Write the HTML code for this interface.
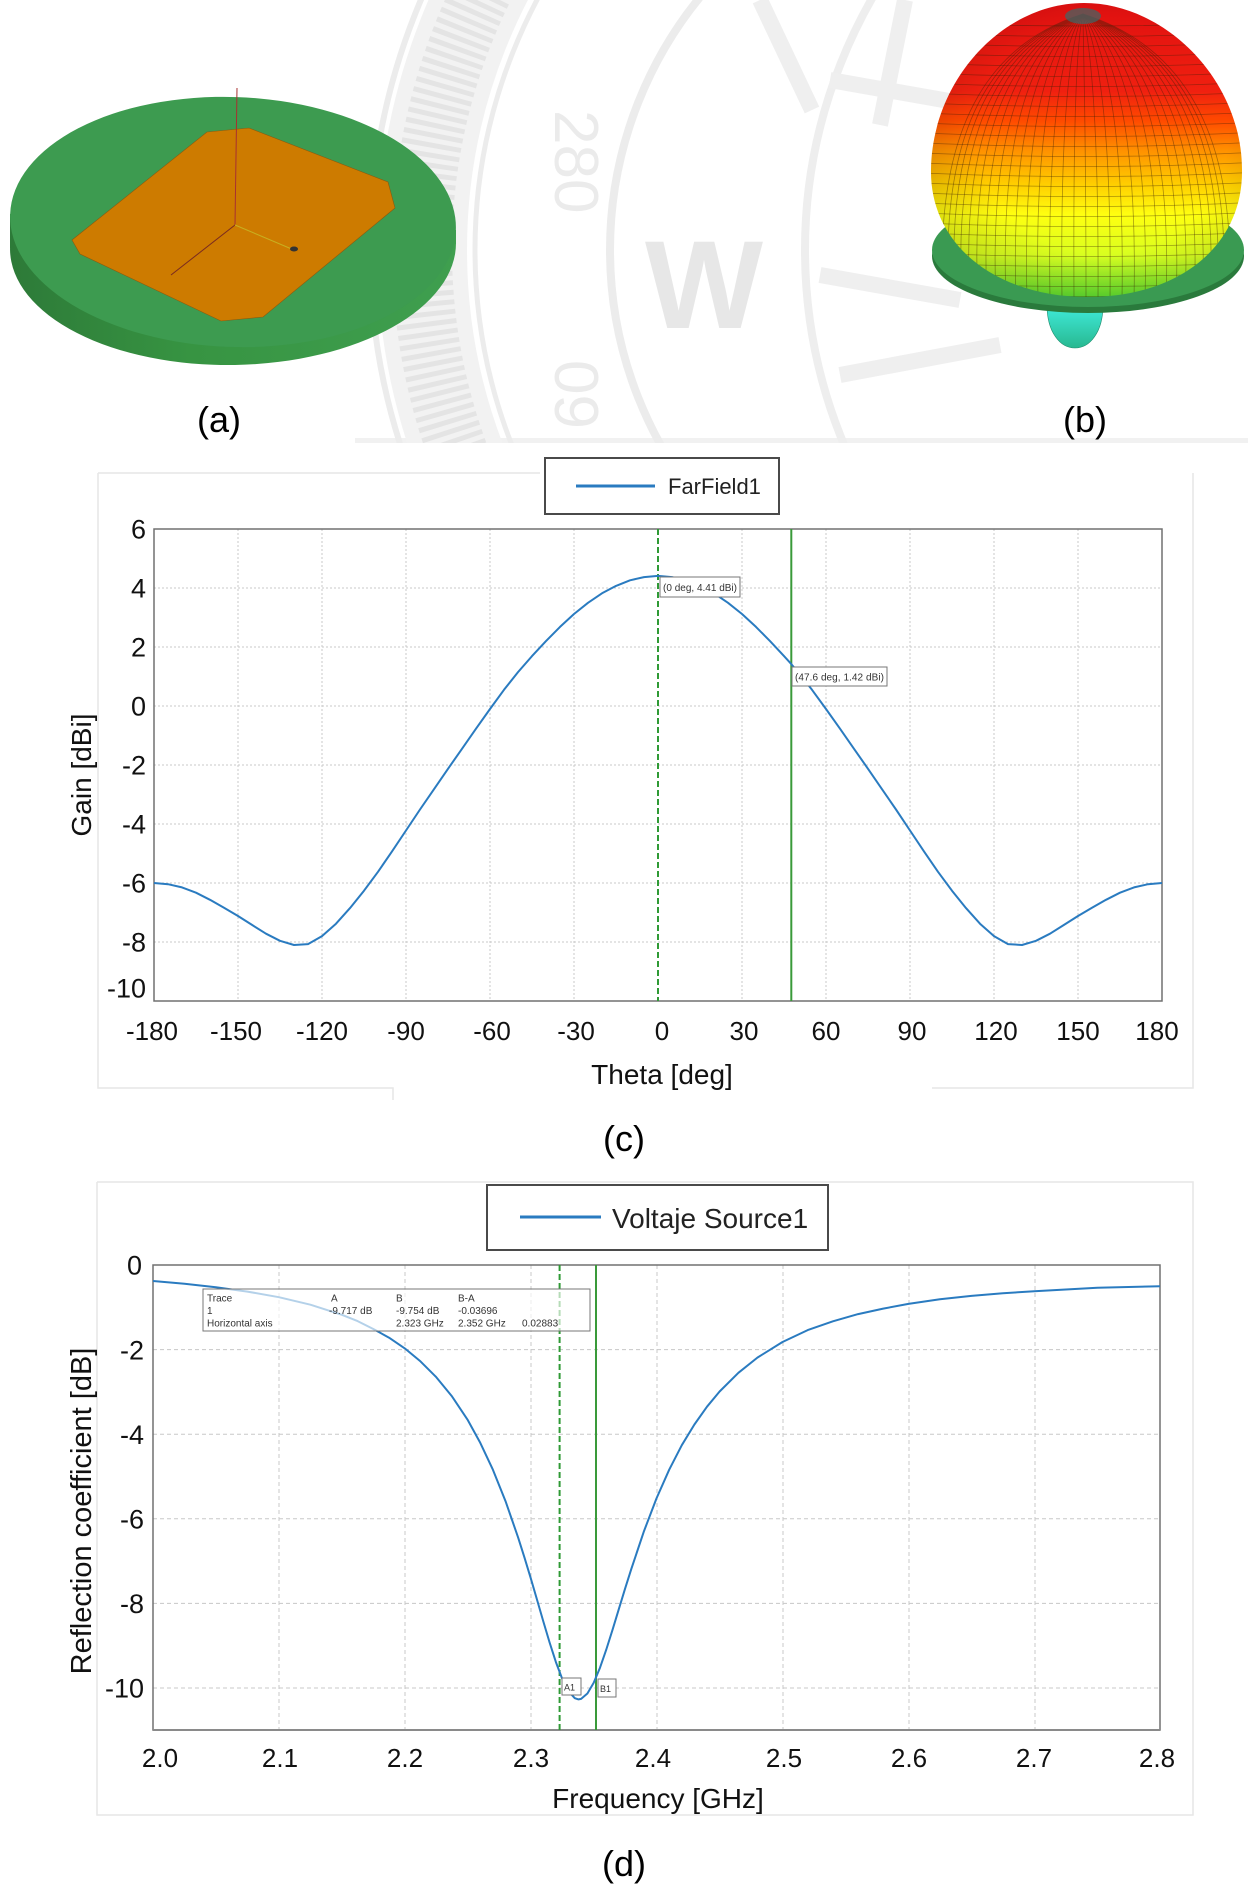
<!DOCTYPE html>
<html><head><meta charset="utf-8"><style>
html,body{margin:0;padding:0;background:#fff;}
svg{display:block;}
text{font-family:"Liberation Sans",sans-serif;}
</style></head><body>
<svg width="1248" height="1890" viewBox="0 0 1248 1890" xmlns="http://www.w3.org/2000/svg">
<defs>
<clipPath id="wm"><rect x="355" y="0" width="893" height="443"/></clipPath>
<linearGradient id="sideA" x1="0" y1="0" x2="1" y2="0">
<stop offset="0" stop-color="#2d7a38"/><stop offset="0.4" stop-color="#379442"/><stop offset="1" stop-color="#3f9f4f"/>
</linearGradient>
<linearGradient id="egg" gradientUnits="userSpaceOnUse" x1="0" y1="3" x2="0" y2="297">
<stop offset="0" stop-color="#e01010"/><stop offset="0.30" stop-color="#f02010"/><stop offset="0.40" stop-color="#ff4a00"/>
<stop offset="0.50" stop-color="#ff9000"/><stop offset="0.62" stop-color="#ffd000"/><stop offset="0.72" stop-color="#ffff10"/>
<stop offset="0.86" stop-color="#d8ff20"/><stop offset="1" stop-color="#60e030"/>
</linearGradient>
<radialGradient id="shade" cx="0.55" cy="0.45" r="0.62">
<stop offset="0.65" stop-color="#000" stop-opacity="0"/><stop offset="1" stop-color="#000" stop-opacity="0.14"/>
</radialGradient>
<linearGradient id="lobe" x1="0" y1="0" x2="0" y2="1">
<stop offset="0" stop-color="#40ecdc"/><stop offset="1" stop-color="#28b890"/>
</linearGradient>
<clipPath id="eggc"><path d="M1084,3 C1165,3 1242,80 1242,170 C1243,245 1180,297 1088,297 C996,297 930,245 931,170 C932,80 1003,3 1084,3 Z"/></clipPath>
</defs>

<!-- watermark -->
<g clip-path="url(#wm)" fill="none">
<rect x="355" y="438" width="893" height="5" fill="#f1f1f1"/>
<circle cx="1010" cy="250" r="588" stroke="#f2f2f2" stroke-width="90"/>
<circle cx="1010" cy="250" r="588" stroke="#e4e4e4" stroke-width="60" stroke-dasharray="5 5"/>
<circle cx="1010" cy="250" r="640" stroke="#ececec" stroke-width="6"/>
<circle cx="1010" cy="250" r="535" stroke="#ececec" stroke-width="5"/>
<circle cx="1010" cy="250" r="400" stroke="#ececec" stroke-width="8"/>
<circle cx="1310" cy="250" r="505" stroke="#eeeeee" stroke-width="8"/>
<path d="M760,0 L812,110 M905,0 L880,125 M830,80 L1000,110 M820,275 L960,300 M840,375 L1000,345" stroke="#efefef" stroke-width="16"/>
<text transform="translate(555,110) rotate(90)" font-family="Liberation Serif,serif" font-size="62" fill="#ebebeb">280</text>
<text transform="translate(555,360) rotate(90)" font-family="Liberation Serif,serif" font-size="62" fill="#ebebeb">09</text>
<text x="645" y="328" font-family="Liberation Serif,serif" font-weight="bold" font-size="125" fill="#e7e7e7">W</text>
</g>

<!-- panel (a) -->
<polygon points="10,214 10,248 456,244 456,230" fill="url(#sideA)"/>
<ellipse cx="233" cy="246" rx="223" ry="119" fill="url(#sideA)" transform="rotate(-1 233 246)"/>
<ellipse cx="233" cy="222" rx="223" ry="125" fill="#3d9b50" transform="rotate(2 233 222)"/>
<polygon points="207,132 249,128 388,182 395,208 263,317 221,321 80,254 72,240" fill="#cd7b00" stroke="#8a5a10" stroke-width="0.6"/>
<line x1="237" y1="88" x2="235" y2="225" stroke="#a83030" stroke-width="1"/>
<line x1="235" y1="225" x2="171" y2="275" stroke="#7a2a20" stroke-width="1"/>
<line x1="235" y1="225" x2="294" y2="250" stroke="#c8b020" stroke-width="1"/>
<ellipse cx="294" cy="249" rx="4" ry="2.5" fill="#333"/>
<text x="219" y="432" text-anchor="middle" font-family="Liberation Serif,serif" font-size="36" fill="#000">(a)</text>

<!-- panel (b) -->
<path d="M1047,305 C1047,332 1060,348 1075,348 C1090,348 1103,332 1103,305 Z" fill="url(#lobe)" stroke="#1a8a6a" stroke-width="0.6"/>
<ellipse cx="1088" cy="256" rx="156" ry="57" fill="#2a7a3c"/>
<ellipse cx="1088" cy="250" rx="156" ry="57" fill="#3a9a52"/>
<path d="M1084,3 C1165,3 1242,80 1242,170 C1243,245 1180,297 1088,297 C996,297 930,245 931,170 C932,80 1003,3 1084,3 Z" fill="url(#egg)"/>
<g clip-path="url(#eggc)" fill="none" stroke="#3a2008" stroke-opacity="0.42" stroke-width="0.8">
<path d="M900,22 Q1086,30 1260,22 M900,32 Q1086,41 1260,32 M900,42 Q1086,51 1260,42 M900,52 Q1086,61 1260,52 M900,62 Q1086,71 1260,62 M900,72 Q1086,81 1260,72 M900,82 Q1086,91 1260,82 M900,92 Q1086,101 1260,92 M900,102 Q1086,111 1260,102 M900,112 Q1086,121 1260,112 M900,122 Q1086,131 1260,122 M900,132 Q1086,141 1260,132 M900,142 Q1086,151 1260,142 M900,152 Q1086,161 1260,152 M900,162 Q1086,171 1260,162 M900,172 Q1086,181 1260,172 M900,182 Q1086,191 1260,182 M900,192 Q1086,201 1260,192 M900,202 Q1086,211 1260,202 M900,212 Q1086,221 1260,212 M900,222 Q1086,231 1260,222 M900,232 Q1086,241 1260,232 M900,242 Q1086,251 1260,242 M900,252 Q1086,261 1260,252 M900,262 Q1086,271 1260,262 M900,272 Q1086,281 1260,272 M900,282 Q1086,291 1260,282 M900,292 Q1086,301 1260,292"/>
<path d="M1083,14 C1083,40 1086,110 1086,300
M1083,14 C1089,40 1099,110 1098,300 M1083,14 C1077,40 1073,110 1074,300
M1083,14 C1095,40 1112,110 1110,300 M1083,14 C1071,40 1060,110 1062,300
M1083,14 C1101,40 1125,110 1122,300 M1083,14 C1065,40 1047,110 1050,300
M1083,14 C1107,40 1138,110 1134,300 M1083,14 C1059,40 1034,110 1038,300
M1083,14 C1113,40 1150,110 1145,300 M1083,14 C1053,40 1022,110 1027,300
M1083,14 C1119,40 1162,110 1156,300 M1083,14 C1047,40 1010,110 1016,300
M1083,14 C1125,40 1173,110 1166,300 M1083,14 C1041,40 999,110 1006,300
M1083,14 C1131,40 1184,110 1176,300 M1083,14 C1035,40 988,110 996,300
M1083,14 C1137,40 1194,110 1185,300 M1083,14 C1029,40 978,110 987,300
M1083,14 C1142,40 1204,110 1194,300 M1083,14 C1024,40 968,110 978,300
M1083,14 C1147,40 1213,110 1202,300 M1083,14 C1019,40 959,110 970,300
M1083,14 C1152,40 1221,110 1210,300 M1083,14 C1014,40 951,110 962,300
M1083,14 C1157,40 1228,110 1217,300 M1083,14 C1009,40 944,110 955,300
M1083,14 C1161,40 1234,110 1223,300 M1083,14 C1005,40 938,110 949,300
M1083,14 C1165,40 1239,110 1229,300 M1083,14 C1001,40 933,110 943,300"/>
</g>
<path d="M1084,3 C1165,3 1242,80 1242,170 C1243,245 1180,297 1088,297 C996,297 930,245 931,170 C932,80 1003,3 1084,3 Z" fill="url(#shade)"/>
<ellipse cx="1083" cy="16" rx="18" ry="8" fill="#3c6a6a" opacity="0.7"/>
<text x="1085" y="432" text-anchor="middle" font-family="Liberation Serif,serif" font-size="36" fill="#000">(b)</text>

<!-- ===== plot (c) ===== -->
<g stroke="#e6e6e6" stroke-width="1.5" fill="none">
<path d="M98,473 L98,1088 L393,1088 L393,1100 M932,1088 L1193,1088 L1193,473 M98,473 L540,473"/>
</g>
<rect x="545" y="458" width="234" height="56" fill="#fff" stroke="#4a4a4a" stroke-width="2"/>
<line x1="576" y1="486" x2="655" y2="486" stroke="#2a7bc0" stroke-width="3"/>
<text x="668" y="494" font-size="22" fill="#222">FarField1</text>

<g stroke="#c8c8c8" stroke-width="1" stroke-dasharray="2 2">
<line x1="154" y1="588" x2="1162" y2="588"/><line x1="154" y1="647" x2="1162" y2="647"/>
<line x1="154" y1="706" x2="1162" y2="706"/><line x1="154" y1="765" x2="1162" y2="765"/>
<line x1="154" y1="824" x2="1162" y2="824"/><line x1="154" y1="883" x2="1162" y2="883"/>
<line x1="154" y1="942" x2="1162" y2="942"/>
<line x1="238" y1="529" x2="238" y2="1001"/><line x1="322" y1="529" x2="322" y2="1001"/>
<line x1="406" y1="529" x2="406" y2="1001"/><line x1="490" y1="529" x2="490" y2="1001"/>
<line x1="574" y1="529" x2="574" y2="1001"/><line x1="742" y1="529" x2="742" y2="1001"/>
<line x1="826" y1="529" x2="826" y2="1001"/><line x1="910" y1="529" x2="910" y2="1001"/>
<line x1="994" y1="529" x2="994" y2="1001"/><line x1="1078" y1="529" x2="1078" y2="1001"/>
</g>
<rect x="154" y="529" width="1008" height="472" fill="none" stroke="#707070" stroke-width="1.5"/>
<line x1="658" y1="529" x2="658" y2="1001" stroke="#2f9a35" stroke-width="2" stroke-dasharray="6 3"/>
<line x1="791.3" y1="529" x2="791.3" y2="1001" stroke="#3a9a3a" stroke-width="2"/>
<polyline fill="none" stroke="#2a7bc0" stroke-width="2" stroke-linejoin="round" points="154,883 168,884.2 182,887.4 196,892.7 210,899.8 224,907.8 238,916 252,924.9 266,933.7 280,940.8 294,945 308,944.1 322,936.1 336,923.7 350,908.1 364,890.7 378,871.8 392,851.4 406,830.5 420,809.5 434,789.2 448,768.8 462,748.8 476,728.7 490,709 504,689.8 518,672.1 532,656.1 546,641.1 560,626.9 574,614 588,602.8 602,593.3 616,585.9 630,580.3 644,577.1 658,575.9 672,577.1 686,580.3 700,585.9 714,593.3 728,602.8 742,614 756,626.9 770,641.1 784,656.1 791.3,664.1 798,672.1 812,689.8 826,709 840,728.7 854,748.8 868,768.8 882,789.2 896,809.5 910,830.5 924,851.4 938,871.8 952,890.7 966,908.1 980,923.7 994,936.1 1008,944.1 1022,945 1036,940.8 1050,933.7 1064,924.9 1078,916 1092,907.8 1106,899.8 1120,892.7 1134,887.4 1148,884.2 1162,883"/>
<rect x="660" y="577" width="80" height="20" fill="#fff" stroke="#777" stroke-width="1"/>
<text x="663" y="591" font-size="10" fill="#333" textLength="74">(0 deg, 4.41 dBi)</text>
<rect x="792" y="667" width="95" height="19" fill="#fff" stroke="#777" stroke-width="1"/>
<text x="795" y="680.5" font-size="10" fill="#333" textLength="89">(47.6 deg, 1.42 dBi)</text>

<g font-size="27" fill="#111" text-anchor="end">
<text x="146" y="538.7">6</text><text x="146" y="597.7">4</text><text x="146" y="656.7">2</text>
<text x="146" y="715.7">0</text><text x="146" y="774.7">-2</text><text x="146" y="833.7">-4</text>
<text x="146" y="892.7">-6</text><text x="146" y="951.7">-8</text><text x="146" y="997.7">-10</text>
</g>
<g font-size="26" fill="#111" text-anchor="middle">
<text x="152" y="1040">-180</text><text x="236" y="1040">-150</text><text x="322" y="1040">-120</text>
<text x="406" y="1040">-90</text><text x="492" y="1040">-60</text><text x="576" y="1040">-30</text>
<text x="662" y="1040">0</text><text x="744" y="1040">30</text><text x="826" y="1040">60</text>
<text x="912" y="1040">90</text><text x="996" y="1040">120</text><text x="1078" y="1040">150</text>
<text x="1157" y="1040">180</text>
</g>
<text x="662" y="1084" font-size="28" fill="#111" text-anchor="middle">Theta [deg]</text>
<text transform="translate(91,775) rotate(-90)" font-size="28" fill="#111" text-anchor="middle">Gain [dBi]</text>
<text x="624" y="1151" text-anchor="middle" font-family="Liberation Serif,serif" font-size="36" fill="#000">(c)</text>

<!-- ===== plot (d) ===== -->
<g stroke="#e6e6e6" stroke-width="1.5" fill="none">
<path d="M97,1182 L97,1815 L1193,1815 L1193,1182 L97,1182"/>
</g>
<rect x="487" y="1185" width="341" height="65" fill="#fff" stroke="#4a4a4a" stroke-width="2"/>
<line x1="520" y1="1217" x2="601" y2="1217" stroke="#2a7bc0" stroke-width="3"/>
<text x="612" y="1228" font-size="28" fill="#222">Voltaje Source1</text>

<g stroke="#c8c8c8" stroke-width="1" stroke-dasharray="4 3">
<line x1="153" y1="1349.6" x2="1160" y2="1349.6"/><line x1="153" y1="1434.2" x2="1160" y2="1434.2"/>
<line x1="153" y1="1518.8" x2="1160" y2="1518.8"/><line x1="153" y1="1603.4" x2="1160" y2="1603.4"/>
<line x1="153" y1="1688" x2="1160" y2="1688"/>
<line x1="279" y1="1265" x2="279" y2="1730"/><line x1="405" y1="1265" x2="405" y2="1730"/>
<line x1="531" y1="1265" x2="531" y2="1730"/><line x1="657" y1="1265" x2="657" y2="1730"/>
<line x1="783" y1="1265" x2="783" y2="1730"/><line x1="909" y1="1265" x2="909" y2="1730"/>
<line x1="1035" y1="1265" x2="1035" y2="1730"/>
</g>
<rect x="153" y="1265" width="1007" height="465" fill="none" stroke="#707070" stroke-width="1.5"/>
<line x1="153" y1="1730" x2="1160" y2="1730" stroke="#8a8a8a" stroke-width="2"/>
<line x1="559.6" y1="1265" x2="559.6" y2="1730" stroke="#2f9a35" stroke-width="2" stroke-dasharray="6 3"/>
<line x1="596" y1="1265" x2="596" y2="1730" stroke="#3a9a3a" stroke-width="2"/>
<polyline fill="none" stroke="#2a7bc0" stroke-width="2" stroke-linejoin="round" points="153,1281 184.5,1283.8 215.9,1287.2 247.4,1291.6 278.9,1297.2 310.4,1304.7 341.9,1314.8 357.6,1321.1 373.3,1329 389.1,1337.7 404.8,1348.4 420.5,1361.4 436.3,1377.2 452,1396.4 467.8,1420.1 480.3,1442.9 492.9,1469.7 505.5,1501.1 518.1,1537.4 524.4,1557.3 530.7,1578.1 537,1599.6 543.3,1621.4 549.6,1642.5 555.9,1662.1 562.2,1678.8 568.5,1691.3 574.8,1698.2 578.5,1699.4 581.1,1698.9 587.4,1693.5 593.7,1682.7 600,1667.7 606.3,1649.5 612.6,1629.6 618.8,1609.2 625.1,1588.6 631.4,1568.7 644,1531.1 656.6,1498.1 669.2,1469.7 681.8,1445.2 694.4,1424.5 707,1406.7 719.6,1391.5 738.4,1372.8 757.4,1357.6 782.5,1342 807.7,1330.1 832.9,1321.3 858.1,1314.1 883.2,1308.6 908.4,1303.9 939.9,1299.3 971.4,1295.9 1002.9,1293.3 1034.3,1291.2 1065.8,1289.5 1097.3,1287.8 1160,1286.2"/>
<rect x="203" y="1289" width="387" height="42" fill="#fff" fill-opacity="0.65" stroke="#777" stroke-width="1"/>
<g font-size="10" fill="#333">
<text x="207" y="1301.5">Trace</text><text x="331" y="1301.5">A</text><text x="396" y="1301.5">B</text><text x="458" y="1301.5">B-A</text>
<text x="207" y="1314">1</text><text x="329" y="1314">-9.717 dB</text><text x="396" y="1314">-9.754 dB</text><text x="458" y="1314">-0.03696</text>
<text x="207" y="1326.5">Horizontal axis</text><text x="396" y="1326.5">2.323 GHz</text><text x="458" y="1326.5">2.352 GHz</text><text x="522" y="1326.5">0.02883</text>
</g>
<rect x="562" y="1678" width="19" height="17" fill="#fff" stroke="#777" stroke-width="1"/>
<text x="564" y="1690.5" font-size="9" fill="#333">A1</text>
<rect x="598" y="1679" width="18" height="18" fill="#fff" stroke="#777" stroke-width="1"/>
<text x="600" y="1692" font-size="9" fill="#333">B1</text>

<g font-size="27" fill="#111" text-anchor="end">
<text x="142" y="1274.7">0</text><text x="144" y="1359.3">-2</text><text x="144" y="1443.9">-4</text>
<text x="144" y="1528.5">-6</text><text x="144" y="1613.1">-8</text><text x="144" y="1697.7">-10</text>
</g>
<g font-size="26" fill="#111" text-anchor="middle">
<text x="160" y="1767">2.0</text><text x="280" y="1767">2.1</text><text x="405" y="1767">2.2</text>
<text x="531" y="1767">2.3</text><text x="653" y="1767">2.4</text><text x="784" y="1767">2.5</text>
<text x="909" y="1767">2.6</text><text x="1034" y="1767">2.7</text><text x="1157" y="1767">2.8</text>
</g>
<text x="658" y="1808" font-size="28" fill="#111" text-anchor="middle">Frequency [GHz]</text>
<text transform="translate(91,1511) rotate(-90)" font-size="29" fill="#111" text-anchor="middle">Reflection coefficient [dB]</text>
<text x="624" y="1876" text-anchor="middle" font-family="Liberation Serif,serif" font-size="36" fill="#000">(d)</text>
</svg>
</body></html>
